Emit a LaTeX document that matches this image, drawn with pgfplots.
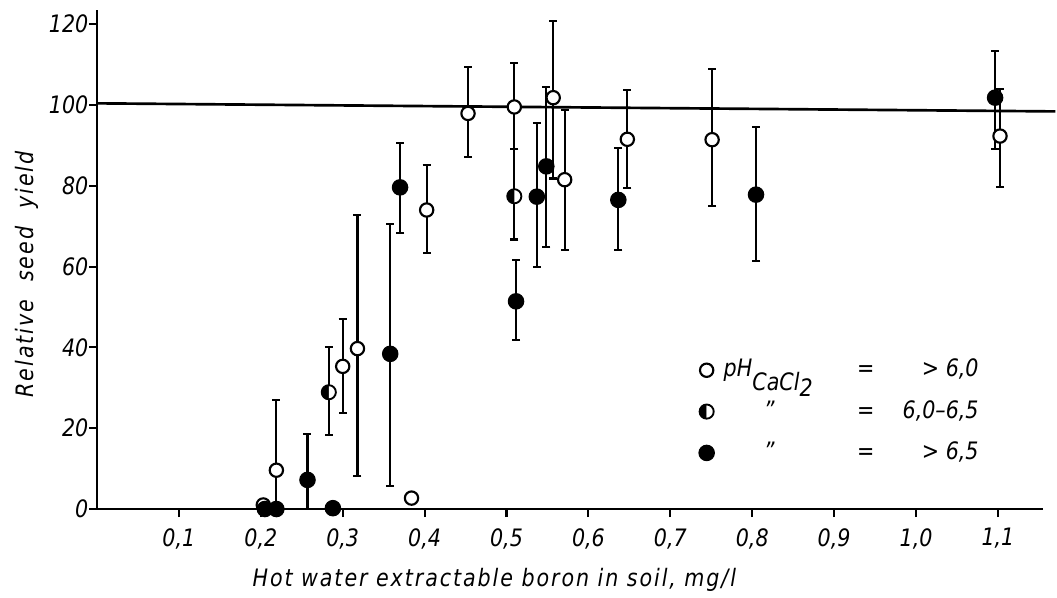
\documentclass[border=0pt]{standalone}
\usepackage{fontspec}
\setmainfont{DejaVu Sans}[FakeStretch=0.86]
\newfontfamily\labelfont{DejaVu Sans}[FakeStretch=0.86, LetterSpace=8]
\usepackage{pgfplots}
\usepackage{pgfplotstable}
\pgfplotsset{compat=1.18}
\usetikzlibrary{plotmarks}

\pgfplotstableread{
x y ep em
0.219 9.6 17.4 9.6
0.300 35.3 11.7 11.6
0.318 39.7 33.1 31.6
0.4025 74.0 11.1 10.7
0.453 97.9 11.5 10.7
0.5095 99.5 10.9 10.5
0.557 101.8 18.9 20.0
0.571 81.5 17.3 17.5
0.6475 91.5 12.1 12.0
0.751 91.4 17.4 16.5
1.1025 92.3 11.7 12.7
}\openerr

\pgfplotstableread{
x y
0.203 1.0
0.384 2.7
}\opennoerr

\pgfplotstableread{
x y ep em
0.283 28.9 11.1 10.5
0.5095 77.4 11.6 10.7
}\halferr

\pgfplotstableread{
x y ep em
0.257 7.2 11.3 7.2
0.358 38.4 32.1 32.7
0.370 79.6 10.9 11.3
0.5116 51.4 10.3 9.5
0.537 77.3 18.3 17.5
0.5486 84.8 19.6 20.0
0.6365 76.5 12.8 12.3
0.8046 77.8 16.8 16.5
1.0965 101.8 11.5 12.8
}\fullerr

\pgfplotstableread{
x y
0.205 0.0
0.219 0.0
0.288 0.2
}\fullnoerr

\begin{document}
\begin{tikzpicture}
\path[use as bounding box] (-72.75pt,-66pt) rectangle ++(792.75pt,447.75pt);
\begin{axis}[
  scale only axis, width=709.5pt, height=374.25pt,
  at={(0,0)}, anchor=south west,
  xmin=0, xmax=1.155, ymin=0, ymax=123.5,
  axis lines=left, axis line style={line width=2pt, -},
  clip=false,
  xtick={0.1,0.2,0.3,0.4,0.5,0.6,0.7,0.8,0.9,1.0,1.1},
  ytick={0,20,40,60,80,100,120},
  tick align=outside, major tick length=6pt,
  tick style={line width=1.6pt, black},
  tick label style={font=\fontsize{18}{22}\selectfont\itshape},
  xticklabel style={/pgf/number format/fixed, /pgf/number format/fixed zerofill, /pgf/number format/precision=1, yshift=-5pt},
  yticklabel style={/pgf/number format/fixed, /pgf/number format/precision=0, xshift=3pt},
  /pgf/number format/use comma,
  /pgf/number format/assume math mode=true,
  xlabel={Hot water extractable boron in soil, mg/l},
  ylabel={Relative\hspace{0.75em}seed\hspace{0.75em}yield},
  label style={font=\labelfont\fontsize{18}{22}\selectfont\itshape},
  xlabel style={at={(axis description cs:0.42,-0.142)}, anchor=center},
  ylabel style={at={(axis description cs:-0.074,0.47)}, anchor=center, rotate=0},
  legend style={at={(0.636,0.308)}, anchor=north west, draw=none, fill=none,
    row sep=9pt, inner sep=0pt,
    nodes={inner sep=2pt, text height=14pt, text depth=4pt, font=\fontsize{18}{22}\selectfont\itshape}},
  legend cell align=left,
  error bars/error bar style={line width=1.6pt, black},
  error bars/error mark options={line width=1.6pt, mark size=3pt, black, rotate=90},
]
% reference line at 100
\addplot[black, line width=2pt, forget plot] coordinates {(0,100.4) (1.17,98.4)};

% open circles
\addplot[only marks, mark=*, mark size=5pt, mark options={fill=white, draw=black, line width=1.6pt},
  error bars/.cd, y dir=both, y explicit]
  table[x=x, y=y, y error plus=ep, y error minus=em] {\openerr};
\addlegendentry{\hspace*{5pt}\makebox[5.42em][l]{pH\raisebox{-10pt}[0pt][0pt]{CaCl\raisebox{-5pt}[0pt][0pt]{2}}}\makebox[1em]{=}\makebox[4.2em][r]{> 6,0}}
\addplot[only marks, mark=*, mark size=5pt, mark options={fill=white, draw=black, line width=1.6pt}, forget plot]
  table[x=x, y=y] {\opennoerr};

% half-filled circles
\addplot[only marks, mark=halfcircle*, mark size=5.3pt, mark options={fill=black, mark color=white, draw=black, line width=1.4pt, rotate=90},
  error bars/.cd, y dir=both, y explicit]
  table[x=x, y=y, y error plus=ep, y error minus=em] {\halferr};
\addlegendentry{\hspace*{5pt}\makebox[5.42em][l]{\hspace*{1.67em}”}\makebox[1em]{=}\makebox[4.2em][r]{6,0–6,5}}

% filled circles
\addplot[only marks, mark=*, mark size=5.8pt, mark options={fill=black, draw=black, line width=0.8pt},
  error bars/.cd, y dir=both, y explicit]
  table[x=x, y=y, y error plus=ep, y error minus=em] {\fullerr};
\addlegendentry{\hspace*{5pt}\makebox[5.42em][l]{\hspace*{1.67em}”}\makebox[1em]{=}\makebox[4.2em][r]{> 6,5}}
\addplot[only marks, mark=*, mark size=5.8pt, mark options={fill=black, draw=black, line width=0.8pt}, forget plot]
  table[x=x, y=y] {\fullnoerr};
\end{axis}
\end{tikzpicture}
\end{document}
